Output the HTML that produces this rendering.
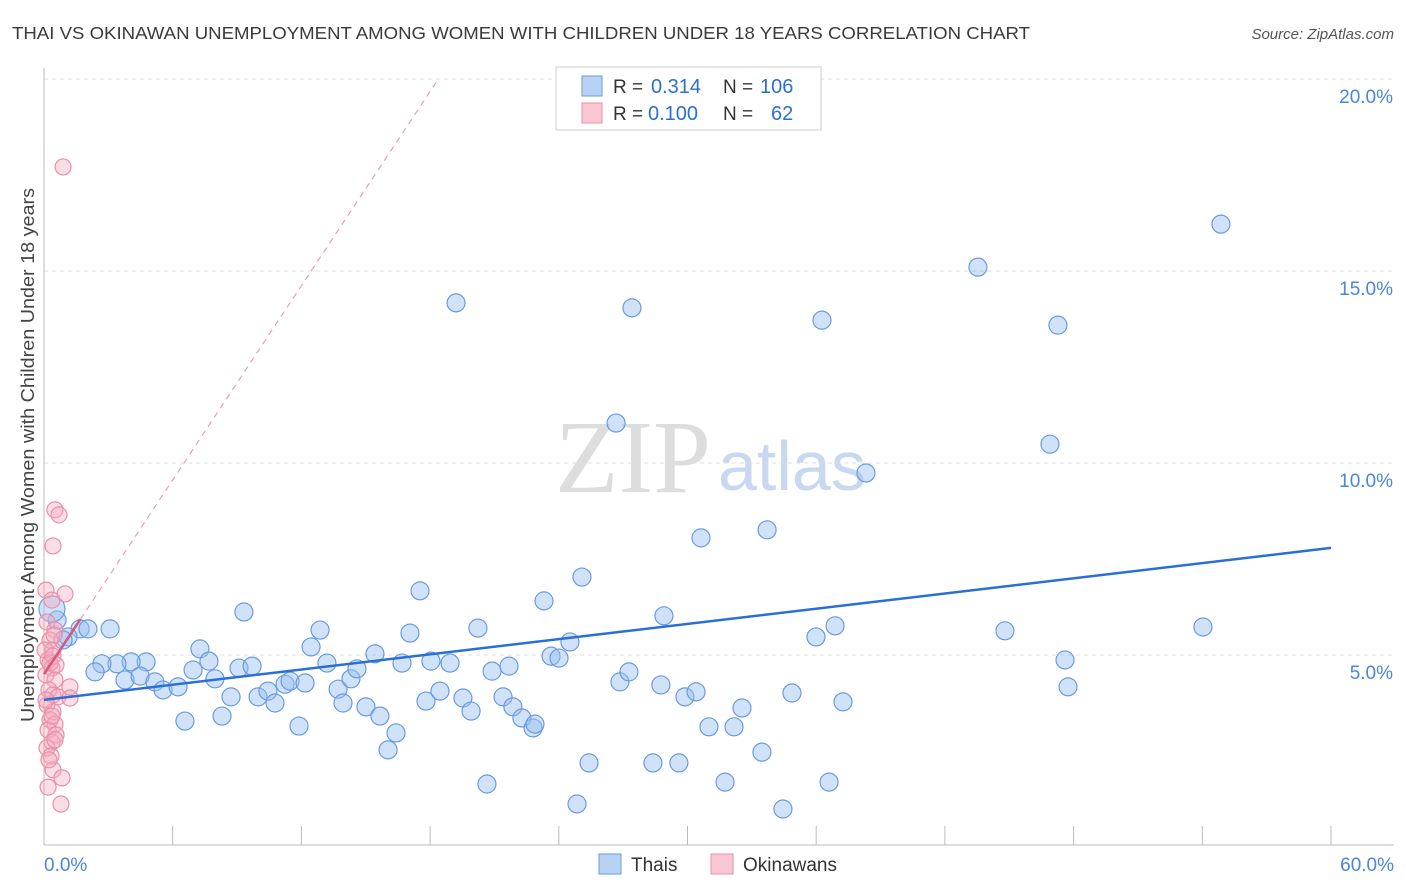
<!DOCTYPE html>
<html><head><meta charset="utf-8"><style>
body{margin:0;background:#fff;font-family:"Liberation Sans",sans-serif;}
svg{display:block}
</style></head><body>
<svg id="c" width="1406" height="892">
<text x="12" y="39" font-size="17.5" fill="#3a3a3a" textLength="1018" lengthAdjust="spacingAndGlyphs">THAI VS OKINAWAN UNEMPLOYMENT AMONG WOMEN WITH CHILDREN UNDER 18 YEARS CORRELATION CHART</text>
<text x="1394" y="39" font-size="15" fill="#555" font-style="italic" text-anchor="end">Source: ZipAtlas.com</text>
<text transform="translate(34,455) rotate(-90)" font-size="18" fill="#444" text-anchor="middle" textLength="534" lengthAdjust="spacingAndGlyphs">Unemployment Among Women with Children Under 18 years</text>
<text x="555" y="492" font-size="104" fill="#ddd" font-family="Liberation Serif,serif">ZIP</text>
<text x="718" y="490" font-size="70" fill="#c8d8f0">atlas</text>
<g id="grid"></g><g id="pts"></g><g id="lines"></g>
<g>
<rect x="556" y="67" width="265" height="63" fill="#fff" stroke="#ccc"/>
<rect x="582" y="76" width="20" height="20" fill="#b8d2f5" stroke="#6a9be0"/>
<rect x="582" y="103" width="20" height="20" fill="#f9c6d4" stroke="#e890aa"/>
<text x="613" y="93" font-size="19" fill="#333">R =</text>
<text x="651" y="93" font-size="20" fill="#2a6fd6">0.314</text>
<text x="723" y="93" font-size="19" fill="#333">N =</text>
<text x="760" y="93" font-size="20" fill="#2a6fd6">106</text>
<text x="613" y="120" font-size="19" fill="#333">R =</text>
<text x="648" y="120" font-size="20" fill="#2a6fd6">0.100</text>
<text x="723" y="120" font-size="19" fill="#333">N =</text>
<text x="771" y="120" font-size="20" fill="#2a6fd6">62</text>
</g>
<g>
<rect x="599" y="854" width="22" height="20" fill="#b8d2f5" stroke="#6a9be0"/>
<text x="631" y="871" font-size="19" fill="#333">Thais</text>
<rect x="711" y="854" width="22" height="20" fill="#f9c6d4" stroke="#e890aa"/>
<text x="743" y="871" font-size="19" fill="#333">Okinawans</text>
</g>
</svg>
<script>
const xTicks=[0,6,12,18,24,30,36,42,48,54,60];
const yTicks=[5,10,15,20];
const bluePx=[[456,303],[632,308],[822,320],[978,267],[1221,224],[1058,325],[1050,444],[616,423],[866,473],[701,538],[767,530],[582,577],[420,591],[544,601],[664,616],[835,626],[816,637],[1005,631],[1203,627],[478,628],[570,642],[551,656],[559,658],[410,633],[320,630],[311,647],[244,612],[200,649],[209,661],[146,662],[131,662],[117,664],[102,664],[95,672],[110,629],[80,629],[88,629],[68,637],[57,620],[52,609],[63,640],[125,680],[140,676],[155,682],[163,690],[178,687],[193,670],[215,679],[231,697],[239,668],[252,666],[258,697],[268,691],[275,703],[285,684],[290,681],[305,683],[299,726],[222,716],[185,721],[327,663],[338,689],[343,703],[351,679],[357,669],[375,654],[366,707],[380,716],[396,733],[388,750],[402,663],[426,701],[431,661],[440,691],[450,663],[463,698],[471,711],[492,671],[509,666],[503,697],[513,707],[522,718],[533,728],[535,724],[487,784],[577,804],[589,763],[620,682],[629,672],[661,685],[653,763],[679,763],[685,697],[696,692],[709,727],[734,727],[742,708],[725,782],[762,752],[783,809],[792,693],[829,782],[843,702],[1065,660],[1068,687]];
const pinkPx=[[63,167],[55,510],[59,515],[53,546],[65,594],[46,590],[52,600],[47,622],[55,630],[50,640],[53,650],[48,660],[52,668],[46,675],[55,680],[49,690],[53,695],[58,697],[70,687],[70,698],[47,705],[53,712],[50,720],[55,724],[48,730],[56,735],[52,742],[47,748],[51,756],[53,770],[62,778],[48,787],[61,804],[54,635],[45,650],[50,663],[53,656],[56,665],[46,700],[52,716],[55,740],[49,760]];
const thaisX=bluePx.map(p=>+((p[0]-44)/21.45).toFixed(2));
const thaisY=bluePx.map(p=>+((847-p[1])/38.4).toFixed(2));
const okiX=pinkPx.map(p=>+((p[0]-44)/21.45).toFixed(2));
const okiY=pinkPx.map(p=>+((847-p[1])/38.4).toFixed(2));
const thaiTrend=[3.83,7.79];
const okiTrend=[4.5,0.843];
const X=v=>44+v*21.45, Y=v=>847-v*38.4;
const NS="http://www.w3.org/2000/svg";
function mk(t,a,p){const e=document.createElementNS(NS,t);for(const k in a)e.setAttribute(k,a[k]);p.appendChild(e);return e;}
const g=document.getElementById('grid');
yTicks.forEach(v=>{const l=mk('line',{x1:44,x2:1394,y1:Y(v),y2:Y(v),stroke:'#ddd','stroke-dasharray':'4,4'},g);


const t=mk('text',{x:1393,y:Y(v)+24,'font-size':19,fill:'#4a86d8','text-anchor':'end'},g);t.textContent=v.toFixed(1)+'%';

});
const ax=mk('line',{x1:44,x2:1394,y1:845,y2:845,stroke:'#bbb'},g);


const ay=mk('line',{x1:44,x2:44,y1:68,y2:845,stroke:'#bbb'},g);


xTicks.forEach(v=>{const l=mk('line',{x1:X(v),x2:X(v),y1:826,y2:845,stroke:'#bbb'},g);

});
[[0,'start',44],[60,'end',1394]].forEach(d=>{const t=mk('text',{x:d[2],y:871,'font-size':19,fill:'#4a86d8','text-anchor':d[1]},g);t.textContent=d[0].toFixed(1)+'%';

});
const P=document.getElementById('pts');
thaisX.forEach((x,i)=>{const c=mk('circle',{cx:X(x),cy:Y(thaisY[i]),r:i==39?13:9,fill:'rgba(150,190,240,0.45)',stroke:'#6a9be0','stroke-width':1.2},P);

});
okiX.forEach((x,i)=>{const c=mk('circle',{cx:X(x),cy:Y(okiY[i]),r:8,fill:'rgba(245,170,190,0.4)',stroke:'#e890aa','stroke-width':1.2},P);

});
const L=document.getElementById('lines');
const tl=mk('line',{x1:X(0),y1:Y(thaiTrend[0]),x2:X(60),y2:Y(thaiTrend[1]),stroke:'#2a6fd6','stroke-width':2.5},L);


const xe=(19.95-okiTrend[0])/okiTrend[1];
const od=mk('line',{x1:X(0),y1:Y(okiTrend[0]),x2:X(xe),y2:Y(okiTrend[0]+okiTrend[1]*xe),stroke:'#e8a0b4','stroke-width':1.2,'stroke-dasharray':'6,5'},L);


const os=mk('line',{x1:X(0),y1:Y(okiTrend[0]),x2:X(1.7),y2:Y(okiTrend[0]+okiTrend[1]*1.7),stroke:'#d9567c','stroke-width':2.5},L);


</script>
</body></html>
